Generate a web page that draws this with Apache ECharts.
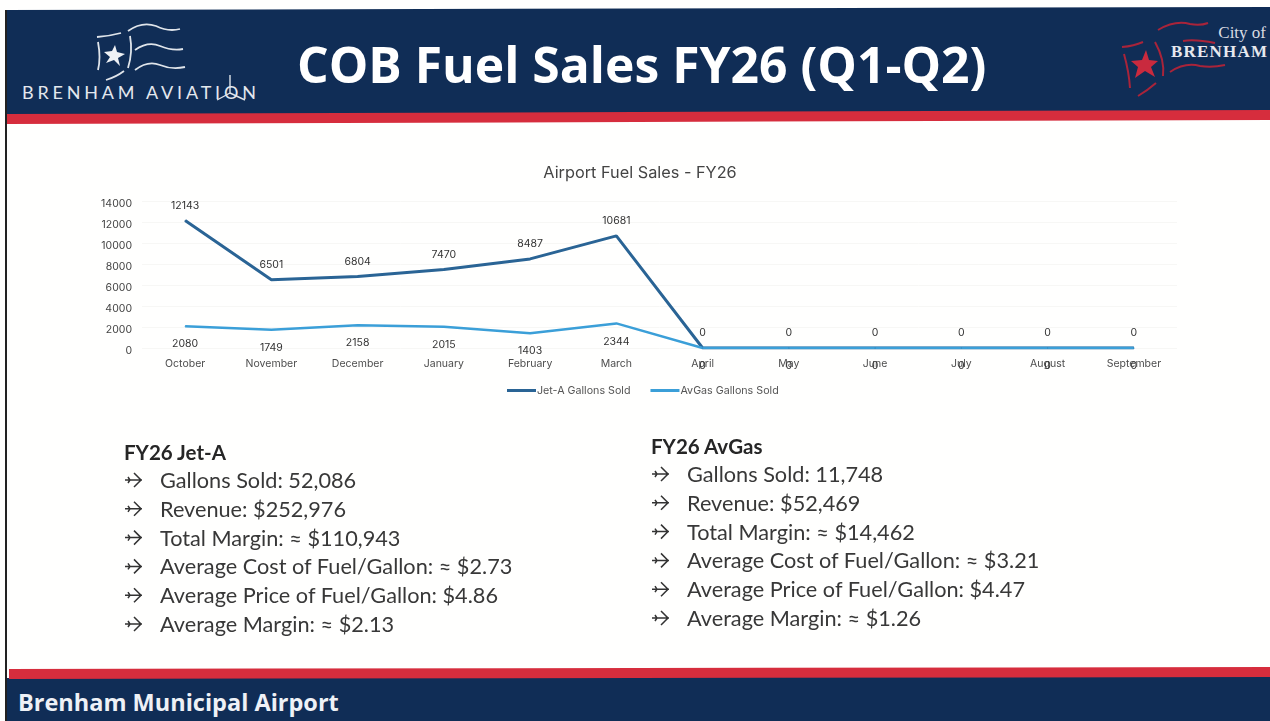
<!DOCTYPE html>
<html>
<head>
<meta charset="utf-8">
<title>COB Fuel Sales FY26</title>
<script src="https://cdn.jsdelivr.net/npm/echarts@6/dist/echarts.min.js"></script>
<style>
  html, body { margin: 0; padding: 0; background: #fff; }
  #slide { position: relative; width: 1270px; height: 721px; overflow: hidden; background: #fffffe; }
  .band { position: absolute; left: 0; top: 0; width: 1270px; height: 721px; }
  #navyTop { background: #102d56; clip-path: polygon(5px 10px, 1270px 7px, 1270px 112px, 5px 116px); }
  #redTop { background: #d62d3d; clip-path: polygon(7px 114px, 1270px 110px, 1270px 120px, 7px 124px); }
  #redBottom { background: #d62d3d; clip-path: polygon(9px 669px, 1270px 667px, 1270px 677px, 9px 679px); }
  #navyBottom { background: #102d56; clip-path: polygon(7px 678px, 1270px 676px, 1270px 721px, 7px 721px); }
  #edge { position: absolute; left: 5px; top: 10px; width: 2px; height: 711px; background: #222; }
  #chart { position: absolute; left: 0; top: 0; width: 1270px; height: 721px; }
  .txt { position: absolute; white-space: nowrap; transform: translateY(-50%); line-height: 1; }
  #mainTitle { left: 297px; top: 64px; color: #fff; font: 700 49.8px "Open Sans", sans-serif; }
  #footer { left: 18px; top: 702px; color: #eef1f6; font: 700 23.5px "Open Sans", sans-serif; }
  #aviation { left: 22px; top: 92px; color: #e4e8ee; font: 400 18px Lato, sans-serif; letter-spacing: 3.8px; }
  #cityOf { right: 4px; top: 33px; color: #d8dbe2; font: 400 17px "Liberation Serif", serif; }
  #brenham { left: 1171px; top: 52px; color: #e6e8ee; font: 700 17px "Liberation Serif", serif; letter-spacing: 1.2px; }
  .head { color: #262626; font: 700 20.5px Lato, sans-serif; }
  .item { color: #383838; font: 400 21.7px Lato, sans-serif; }
  svg { position: absolute; left: 0; top: 0; }
</style>
</head>
<body>
<div id="slide">
  <div class="band" id="navyTop"></div>
  <div class="band" id="redTop"></div>
  <div class="band" id="navyBottom"></div>
  <div class="band" id="redBottom"></div>
  <div id="edge"></div>

  <svg width="1270" height="721" fill="none">
    <!-- aviation flag -->
    <g stroke="#dfe4ea" stroke-width="1.8">
      <path d="M97 37 Q110 36 121 33 M98 42 Q101 58 98 70 M130 36 Q133 52 128 68 M106 80 Q116 77 124 71" />
      <path d="M128 31 Q142 21 156 26 Q168 32 180 29" />
      <path d="M135 50 Q148 41 160 46 Q172 51 183 49" />
      <path d="M135 70 Q148 60 160 65 Q172 70 185 67" />
      <path d="M230 75 V93 M230 93 L217 100 M230 93 L245 100" stroke-width="1.4" />
    </g>
    <polygon fill="#eef1f5" points="115,45 117,52 125,54 118,58 120,66 114,60 106,63 110,57 104,52 112,51" />
    <!-- city flag -->
    <g stroke="#a9243a" stroke-width="2">
      <path d="M1122 47 Q1134 46 1143 42 M1124 54 Q1129 72 1130 88 M1155 42 Q1165 60 1163 76 M1138 96 Q1148 90 1156 83" />
      <path d="M1158 30 Q1175 20 1190 24 Q1200 26 1208 23" />
      <path d="M1183 41 Q1195 39 1215 43" />
      <path d="M1170 72 Q1185 62 1200 66 Q1212 68 1225 65" />
    </g>
    <polygon fill="#c92a3e" points="1146,50 1149,60 1158,61 1151,67 1155,77 1145,71 1135,78 1138,67 1131,61 1142,60" />
    <g id="arrows" stroke="#333" stroke-width="1.5"></g>
  </svg>

  <div class="txt" id="mainTitle">COB Fuel Sales FY26 (Q1-Q2)</div>
  <div class="txt" id="aviation">BRENHAM AVIATION</div>
  <div class="txt" id="cityOf">City of</div>
  <div class="txt" id="brenham">BRENHAM</div>
  <div class="txt" id="footer">Brenham Municipal Airport</div>

  <div id="chart"></div>
</div>

<script>
const months = ['October', 'November', 'December', 'January', 'February', 'March', 'April', 'May', 'June', 'July', 'August', 'September']
const jetA = [12143, 6501, 6804, 7470, 8487, 10681, 0, 0, 0, 0, 0, 0]
const avGas = [2080, 1749, 2158, 2015, 1403, 2344, 0, 0, 0, 0, 0, 0]

const jetAStats = ['Gallons Sold: 52,086', 'Revenue: $252,976', 'Total Margin: ≈ $110,943', 'Average Cost of Fuel/Gallon: ≈ $2.73', 'Average Price of Fuel/Gallon: $4.86', 'Average Margin: ≈ $2.13']
const avGasStats = ['Gallons Sold: 11,748', 'Revenue: $52,469', 'Total Margin: ≈ $14,462', 'Average Cost of Fuel/Gallon: ≈ $3.21', 'Average Price of Fuel/Gallon: $4.47', 'Average Margin: ≈ $1.26']

const slide = document.getElementById('slide')
const arrows = document.getElementById('arrows')

// 左右两个文字列表
const addBlock = (title, lines, x, headY, firstY) => {
  const head = document.createElement('div')
  head.className = 'txt head'
  head.style.left = x + 'px'
  head.style.top = headY + 'px'
  head.textContent = title
  slide.appendChild(head)

  lines.forEach((line, i) => {
    const y = firstY + i * 28.8
    const el = document.createElement('div')
    el.className = 'txt item'
    el.style.left = x + 36 + 'px'
    el.style.top = y + 'px'
    el.textContent = line
    slide.appendChild(el)

    const ax = x + 1
    const p = document.createElementNS('http://www.w3.org/2000/svg', 'path')
    p.setAttribute('d', `M${ax} ${y} H${ax + 17} M${ax + 9} ${y - 7} L${ax + 16} ${y} L${ax + 9} ${y + 7} M${ax + 3} ${y - 3} L${ax + 5} ${y} L${ax + 3} ${y + 3}`)
    arrows.appendChild(p)
  })
}
addBlock('FY26 Jet-A', jetAStats, 124, 452, 480)
addBlock('FY26 AvGas', avGasStats, 651, 446, 474)

const chartFont = 'Inter, sans-serif'
const chartInstance = echarts.init(document.getElementById('chart'))
chartInstance.setOption({
  animation: false,
  backgroundColor: 'transparent',
  textStyle: { fontFamily: chartFont },
  title: {
    text: 'Airport Fuel Sales - FY26',
    left: 635,
    top: 160,
    textAlign: 'center',
    textStyle: { color: '#444', fontSize: 16.3, fontWeight: 400, fontFamily: chartFont }
  },
  legend: {
    data: ['Jet-A Gallons Sold', 'AvGas Gallons Sold'],
    left: 502,
    top: 380,
    itemWidth: 29,
    itemHeight: 3,
    itemGap: 20,
    icon: 'rect',
    textStyle: { color: '#555', fontSize: 10.7, fontFamily: chartFont, padding: [0, 0, 0, -4] }
  },
  grid: { left: 142, top: 201, width: 1035, height: 147 },
  xAxis: {
    type: 'category',
    data: months,
    axisLine: { show: false },
    axisTick: { show: false },
    splitLine: { show: false },
    axisLabel: { color: '#4d4d4d', fontSize: 10.5, margin: 10, interval: 0 }
  },
  yAxis: {
    type: 'value',
    min: 0,
    max: 14000,
    interval: 2000,
    axisLine: { show: false },
    axisTick: { show: false },
    axisLabel: { color: '#444', fontSize: 10.5, margin: 10, verticalAlign: 'top', lineHeight: 5, formatter: (value) => String(value) },
    splitLine: { show: true, lineStyle: { color: '#f7f7f5', width: 1 } }
  },
  series: [
    {
      name: 'Jet-A Gallons Sold',
      type: 'line',
      data: jetA,
      symbol: 'circle',
      symbolSize: 1,
      lineStyle: { color: '#2a6495', width: 3 },
      itemStyle: { color: '#2a6495' },
      label: { show: true, position: 'top', distance: 9, color: '#333', fontSize: 10.5 }
    },
    {
      name: 'AvGas Gallons Sold',
      type: 'line',
      data: avGas,
      symbol: 'circle',
      symbolSize: 1,
      lineStyle: { color: '#3b9fd8', width: 2.5 },
      itemStyle: { color: '#3b9fd8' },
      label: { show: true, position: 'bottom', distance: 12, color: '#333', fontSize: 10.5 }
    }
  ]
})
</script>
</body>
</html>
